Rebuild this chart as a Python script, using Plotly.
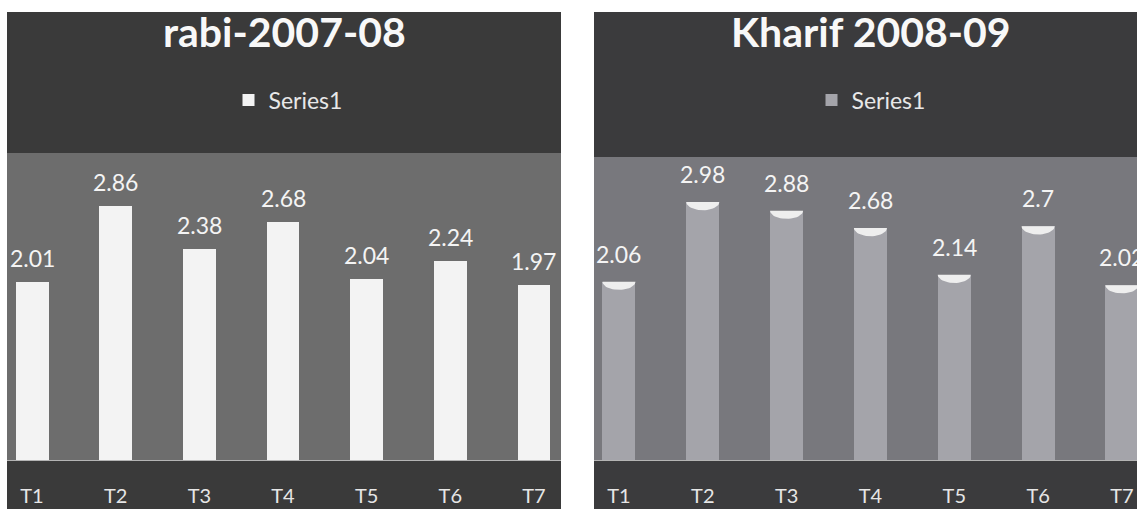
import numpy as np
import plotly.graph_objects as go

# ---- data ----
categories = ["T1", "T2", "T3", "T4", "T5", "T6", "T7"]
rabi_values = [2.01, 2.86, 2.38, 2.68, 2.04, 2.24, 1.97]
kharif_values = [2.06, 2.98, 2.88, 2.68, 2.14, 2.70, 2.02]
series_name = "Series1"
title_left = "rabi-2007-08"
title_right = "Kharif 2008-09"

W, H = 1137, 509
FONT = "Lato"

def px(xp):
    return xp / W

def py(yp):
    return 1 - yp / H

idx = list(range(len(categories)))
bar_w = 0.394

fig = go.Figure()

fig.add_trace(go.Bar(
    x=idx, y=rabi_values, width=bar_w, name=series_name,
    marker=dict(color="#f3f3f3", line=dict(width=0)),
    xaxis="x", yaxis="y", legend="legend", hoverinfo="skip",
))
fig.add_trace(go.Bar(
    x=idx, y=kharif_values, width=bar_w, name=series_name,
    marker=dict(color="#a4a4aa", line=dict(width=0)),
    xaxis="x2", yaxis="y2", legend="legend2", hoverinfo="skip",
))

# cone-like caps on the right-hand bars (built from the data values)
t = np.linspace(0, np.pi, 25)
cx, cy = [], []
cap_depth = 0.095
for i, v in zip(idx, kharif_values):
    cx += list(i + (bar_w / 2) * np.cos(t)) + [None]
    cy += list(v - cap_depth * np.sin(t)) + [None]
fig.add_trace(go.Scatter(
    x=cx, y=cy, mode="lines", fill="toself", fillcolor="#eeeeee",
    line=dict(width=0, color="#eeeeee"), showlegend=False,
    xaxis="x2", yaxis="y2", hoverinfo="skip",
))

annotations = []
for i, v in zip(idx, rabi_values):
    annotations.append(dict(
        x=i, y=v, xref="x", yref="y", text=f"{v:g}", showarrow=False,
        yanchor="bottom", yshift=8,
        font=dict(family=FONT, size=23, color="#f4f4f4"),
    ))
for i, v in zip(idx, kharif_values):
    annotations.append(dict(
        x=i, y=v, xref="x2", yref="y2", text=f"{v:g}", showarrow=False,
        yanchor="bottom", yshift=12,
        font=dict(family=FONT, size=23, color="#f4f4f4"),
    ))
annotations.append(dict(
    x=px(284), y=py(31), xref="paper", yref="paper", text=f"<b>{title_left}</b>",
    showarrow=False, xanchor="center", yanchor="middle",
    font=dict(family=FONT, size=41, color="#f8f8f8"),
))
annotations.append(dict(
    x=px(871), y=py(31), xref="paper", yref="paper", text=f"<b>{title_right}</b>",
    showarrow=False, xanchor="center", yanchor="middle",
    font=dict(family=FONT, size=41, color="#f8f8f8"),
))

shapes = [
    dict(type="rect", xref="paper", yref="paper", x0=px(7), x1=px(561),
         y0=0, y1=py(12), fillcolor="#3a3a3a", line=dict(width=0), layer="below"),
    dict(type="rect", xref="paper", yref="paper", x0=px(594), x1=1,
         y0=0, y1=py(12), fillcolor="#3b3b3d", line=dict(width=0), layer="below"),
    dict(type="rect", xref="paper", yref="paper", x0=px(7), x1=px(561),
         y0=py(460), y1=py(153), fillcolor="#6d6d6d", line=dict(width=0), layer="below"),
    dict(type="rect", xref="paper", yref="paper", x0=px(594), x1=1,
         y0=py(460), y1=py(157), fillcolor="#78787d", line=dict(width=0), layer="below"),
]

tick_font = dict(family=FONT, size=20, color="#e6e6e6")
xcommon = dict(
    tickmode="array", tickvals=idx, ticktext=categories, tickfont=tick_font,
    showgrid=False, zeroline=False, showline=True, linecolor="#b4b4b4", linewidth=1,
    ticks="outside", ticklen=18, tickcolor="rgba(0,0,0,0)", fixedrange=True,
    automargin=False,
)
ycommon = dict(showgrid=False, zeroline=False, showticklabels=False, showline=False,
               fixedrange=True, automargin=False)

fig.update_layout(
    width=W, height=H, margin=dict(l=0, r=0, t=0, b=0, pad=0, autoexpand=False),
    paper_bgcolor="white", plot_bgcolor="rgba(0,0,0,0)",
    showlegend=True, bargap=0,
    xaxis=dict(domain=[px(7), px(561)], range=[-0.299, 6.323], anchor="y", **xcommon),
    yaxis=dict(domain=[py(460), py(153)], range=[0, 3.46], anchor="x", **ycommon),
    xaxis2=dict(domain=[px(594), 1], range=[-0.298, 6.18], anchor="y2", **xcommon),
    yaxis2=dict(domain=[py(460), py(157)], range=[0, 3.5], anchor="x2", **ycommon),
    legend=dict(x=px(288), y=py(100), xanchor="center", yanchor="middle",
                bgcolor="rgba(0,0,0,0)", font=dict(family=FONT, size=23, color="#e8e8e8"),
                itemwidth=30),
    legend2=dict(x=px(871), y=py(100), xanchor="center", yanchor="middle",
                 bgcolor="rgba(0,0,0,0)", font=dict(family=FONT, size=23, color="#e8e8e8"),
                 itemwidth=30),
    annotations=annotations, shapes=shapes,
)

fig.write_html("out.html")
